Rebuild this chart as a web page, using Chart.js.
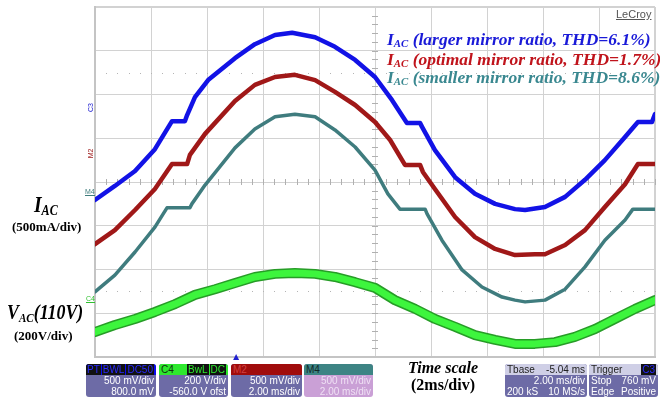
<!DOCTYPE html>
<html>
<head>
<meta charset="utf-8">
<script src="https://cdn.jsdelivr.net/npm/chart.js@4.4.0/dist/chart.umd.min.js"></script>
<style>
body { margin: 0; background: #fff; }
#wrap { position: relative; width: 660px; height: 399px; overflow: hidden; font-family: "Liberation Sans", Arial, sans-serif; }
#scope { position: absolute; left: 0; top: 0; }
.lbl { position: absolute; white-space: nowrap; line-height: 1; }
.serif { font-family: "Liberation Serif", "Times New Roman", serif; font-weight: bold; }
.it { font-style: italic; }
.leg { font-size: 17.5px; }
.leg sub, .big sub { font-size: 0.62em; vertical-align: -0.22em; }
.big { transform: scaleX(0.85); transform-origin: left top; }
.mk { font-size: 7px; }
.box { position: absolute; top: 364px; height: 33px; border-radius: 3px; background: #6d6ba6; overflow: hidden; }
.hd { height: 11px; font-size: 10px; line-height: 11px; padding: 0 2px; position: relative; }
.ln { font-size: 10px; line-height: 11px; color: #fff; padding: 0 2px; position: relative; height: 11px; }
.r { position: absolute; right: 2px; top: 0; }
.l { position: absolute; left: 2px; top: 0; }
.tag { background: #111; padding: 0 1px; margin-left: 1px; }
</style>
</head>
<body>
<div id="wrap">
<canvas id="scope" width="660" height="399"></canvas>

<div class="lbl" style="left:616px;top:9px;font-size:11px;color:#555;text-decoration:underline;">LeCroy</div>

<div class="lbl serif it leg" style="left:387px;top:31px;color:#1a1ad8;">I<sub>AC</sub> (larger mirror ratio, THD=6.1%)</div>
<div class="lbl serif it leg" style="left:387px;top:51px;color:#c0141c;">I<sub>AC</sub> (optimal mirror ratio, THD=1.7%)</div>
<div class="lbl serif it leg" style="left:387px;top:69px;color:#3a8890;">I<sub>AC</sub> (smaller mirror ratio, THD=8.6%)</div>

<div class="lbl serif it big" style="left:34px;top:193px;font-size:23px;">I<sub>AC</sub></div>
<div class="lbl serif" style="left:12px;top:220px;font-size:13px;">(500mA/div)</div>
<div class="lbl serif it big" style="left:7px;top:302px;font-size:21px;">V<sub>AC</sub>(110V)</div>
<div class="lbl serif" style="left:14px;top:329px;font-size:13px;">(200V/div)</div>

<div class="lbl mk" style="left:86px;top:104px;color:#2020d0;transform:rotate(-90deg);">C3</div>
<div class="lbl mk" style="left:86px;top:150px;color:#a02020;transform:rotate(-90deg);">M2</div>
<div class="lbl mk" style="left:85px;top:188px;color:#3f7c7c;border-bottom:1px solid #3f7c7c;">M4</div>
<div class="lbl mk" style="left:86px;top:295px;color:#30c030;border-bottom:1px solid #30c030;">C4</div>

<div class="lbl serif it" style="left:408px;top:360px;font-size:16px;">Time scale</div>
<div class="lbl serif" style="left:411px;top:377px;font-size:16px;">(2ms/div)</div>

<div class="box" style="left:86px;width:70px;">
  <div class="hd" style="background:#0a0af0;color:#0000a0;">C3<span class="r" style="color:#2a2aff;"><span class="tag">PT</span><span class="tag">BWL</span><span class="tag">DC50</span></span></div>
  <div class="ln"><span class="r">500 mV/div</span></div>
  <div class="ln"><span class="r">800.0 mV</span></div>
</div>
<div class="box" style="left:159px;width:69px;">
  <div class="hd" style="background:#2ee82e;color:#103010;">C4<span class="r" style="color:#2ee82e;"><span class="tag">BwL</span><span class="tag">DC</span></span></div>
  <div class="ln"><span class="r">200 V/div</span></div>
  <div class="ln"><span class="r">-560.0 V ofst</span></div>
</div>
<div class="box" style="left:231px;width:71px;">
  <div class="hd" style="background:#a00c0c;color:#d04040;">M2</div>
  <div class="ln"><span class="r">500 mV/div</span></div>
  <div class="ln"><span class="r">2.00 ms/div</span></div>
</div>
<div class="box" style="left:304px;width:69px;background:#caa0d6;">
  <div class="hd" style="background:#3d8484;color:#102828;">M4</div>
  <div class="ln" style="color:#efe0f4;"><span class="r">500 mV/div</span></div>
  <div class="ln" style="color:#efe0f4;"><span class="r">2.00 ms/div</span></div>
</div>
<div class="box" style="left:505px;width:82px;">
  <div class="hd" style="background:#cfcfe6;color:#222;"><span class="l">Tbase</span><span class="r">-5.04 ms</span></div>
  <div class="ln"><span class="r">2.00 ms/div</span></div>
  <div class="ln"><span class="l">200 kS</span><span class="r">10 MS/s</span></div>
</div>
<div class="box" style="left:589px;width:69px;">
  <div class="hd" style="background:#cfcfe6;color:#222;"><span class="l">Trigger</span><span class="r" style="color:#2a2aff;"><span class="tag">C3</span></span></div>
  <div class="ln"><span class="l">Stop</span><span class="r">760 mV</span></div>
  <div class="ln"><span class="l">Edge</span><span class="r">Positive</span></div>
</div>
</div>

<script>
// time in ms (2 ms/div), amplitude in screen divisions from centre
var blueT = [0, 0.71, 1.43, 2.14, 2.75, 3.21, 3.29, 3.57, 4.04, 5.0, 5.71, 6.43, 7.04, 7.86, 8.57, 9.29, 10.0, 10.61, 11.14, 11.61, 11.68, 12.14, 12.86, 13.57, 14.29, 15.0, 15.36, 16.07, 16.79, 17.5, 18.21, 18.93, 19.39, 19.89, 20.0];
var blueI = [-0.41, -0.09, 0.25, 0.75, 1.39, 1.39, 1.53, 1.94, 2.33, 2.83, 3.15, 3.36, 3.41, 3.31, 3.09, 2.79, 2.40, 1.87, 1.35, 1.35, 1.26, 0.73, 0.11, -0.27, -0.50, -0.62, -0.64, -0.57, -0.34, 0.05, 0.50, 1.03, 1.37, 1.37, 1.55];

var redT = [0, 0.71, 1.43, 2.14, 2.75, 3.29, 3.39, 3.93, 5.0, 5.71, 6.43, 7.14, 7.86, 8.57, 9.29, 10.0, 10.54, 11.07, 11.61, 11.71, 12.14, 12.86, 13.57, 14.29, 15.0, 15.71, 16.07, 16.79, 17.5, 18.21, 18.93, 19.39, 20.0];
var redI = [-1.42, -1.10, -0.64, -0.16, 0.41, 0.41, 0.62, 1.10, 1.85, 2.22, 2.40, 2.45, 2.33, 2.06, 1.76, 1.37, 0.96, 0.39, 0.39, 0.23, -0.16, -0.80, -1.26, -1.53, -1.67, -1.65, -1.65, -1.44, -1.10, -0.57, -0.05, 0.41, 0.41];

var tealT = [0, 0.71, 1.43, 2.14, 2.57, 3.39, 3.46, 3.93, 5.0, 5.71, 6.43, 7.14, 7.86, 8.57, 9.29, 10.0, 10.46, 10.89, 11.79, 11.86, 12.39, 13.11, 13.82, 14.54, 15.0, 15.36, 16.07, 16.79, 17.5, 18.21, 18.93, 19.21, 20.0];
var tealI = [-2.51, -2.13, -1.60, -1.03, -0.59, -0.59, -0.50, -0.07, 0.78, 1.21, 1.49, 1.55, 1.49, 1.19, 0.80, 0.27, -0.27, -0.62, -0.62, -0.73, -1.33, -2.01, -2.40, -2.63, -2.70, -2.74, -2.70, -2.45, -1.94, -1.33, -0.87, -0.62, -0.62];

var vacT = [0, 0.71, 1.43, 2.14, 2.86, 3.57, 4.29, 5.0, 5.71, 6.43, 7.14, 7.86, 8.57, 9.29, 10.0, 10.71, 11.43, 12.14, 12.86, 13.57, 14.29, 15.0, 15.71, 16.43, 17.14, 17.86, 18.57, 19.29, 20.0];
var vacV = [-3.43, -3.27, -3.13, -2.97, -2.79, -2.58, -2.45, -2.31, -2.17, -2.10, -2.08, -2.10, -2.17, -2.29, -2.42, -2.70, -2.90, -3.13, -3.31, -3.50, -3.61, -3.70, -3.70, -3.66, -3.54, -3.36, -3.13, -2.90, -2.70];

var dottedLevels = [2.5, -2.5];
var triggerTime = 5.04;

function pts(t, v) {
  return t.map(function (x, i) { return { x: x, y: v[i] }; });
}

// higher "order" is drawn first (underneath)
function trace(label, data, color, width, order) {
  return {
    label: label, data: data, borderColor: color, borderWidth: width, order: order,
    pointRadius: 0, tension: 0, fill: false, borderJoinStyle: 'round', borderCapStyle: 'round'
  };
}

// minor ticks on the centre axes, dotted level lines and trigger marker
var scopeMarks = {
  id: 'scopeMarks',
  beforeDatasetsDraw: function (chart) {
    var ctx = chart.ctx, x = chart.scales.x, y = chart.scales.y;
    var cx = x.getPixelForValue(10), cy = y.getPixelForValue(0);
    ctx.save();
    ctx.strokeStyle = '#b0b0b0';
    ctx.lineWidth = 1;
    ctx.beginPath();
    for (var v = 0.4; v < 20; v += 0.4) {
      var px = Math.round(x.getPixelForValue(v)) + 0.5;
      ctx.moveTo(px, cy - 3); ctx.lineTo(px, cy + 3);
    }
    for (var w = -3.8; w < 4; w += 0.2) {
      var py = Math.round(y.getPixelForValue(w)) + 0.5;
      ctx.moveTo(cx - 3, py); ctx.lineTo(cx + 3, py);
    }
    ctx.stroke();
    ctx.fillStyle = '#b4b4b4';
    dottedLevels.forEach(function (lv) {
      var py = Math.round(y.getPixelForValue(lv));
      for (var t = 0.4; t < 20; t += 0.4) {
        ctx.fillRect(Math.round(x.getPixelForValue(t)), py, 1, 1);
      }
    });
    ctx.restore();
  },
  afterDraw: function (chart) {
    var ctx = chart.ctx, x = chart.scales.x, a = chart.chartArea;
    var px = x.getPixelForValue(triggerTime);
    ctx.save();
    ctx.fillStyle = '#2020d0';
    ctx.beginPath();
    ctx.moveTo(px - 3, a.bottom + 3);
    ctx.lineTo(px + 3, a.bottom + 3);
    ctx.lineTo(px, a.bottom - 3);
    ctx.closePath();
    ctx.fill();
    ctx.restore();
  }
};

function frameWidth(lo, hi) {
  return function (c) { return (c.tick && (c.tick.value === lo || c.tick.value === hi)) ? 2 : 1; };
}

new Chart(document.getElementById('scope').getContext('2d'), {
  type: 'line',
  data: {
    datasets: [
      trace('VAC edge', pts(vacT, vacV), '#279c27', 10, 5),
      trace('VAC', pts(vacT, vacV), '#3df53d', 7, 4),
      trace('IAC smaller mirror ratio', pts(tealT, tealI), '#3f7c7e', 3.5, 3),
      trace('IAC optimal mirror ratio', pts(redT, redI), '#a01818', 4.5, 2),
      trace('IAC larger mirror ratio', pts(blueT, blueI), '#1212e6', 4.5, 1)
    ]
  },
  options: {
    responsive: false,
    animation: false,
    events: [],
    layout: { padding: { left: 95, right: 5, top: 7, bottom: 42 } },
    plugins: { legend: { display: false }, tooltip: { enabled: false } },
    scales: {
      x: {
        type: 'linear', min: 0, max: 20,
        ticks: { display: false, stepSize: 2 },
        grid: { color: '#d2d2d2', lineWidth: frameWidth(0, 20), drawTicks: false },
        border: { display: true, color: '#c4c4c4', width: 2 }
      },
      y: {
        min: -4, max: 4,
        ticks: { display: false, stepSize: 1 },
        grid: { color: '#d2d2d2', lineWidth: frameWidth(-4, 4), drawTicks: false },
        border: { display: true, color: '#c4c4c4', width: 2 }
      }
    }
  },
  plugins: [scopeMarks]
});
</script>
</body>
</html>
